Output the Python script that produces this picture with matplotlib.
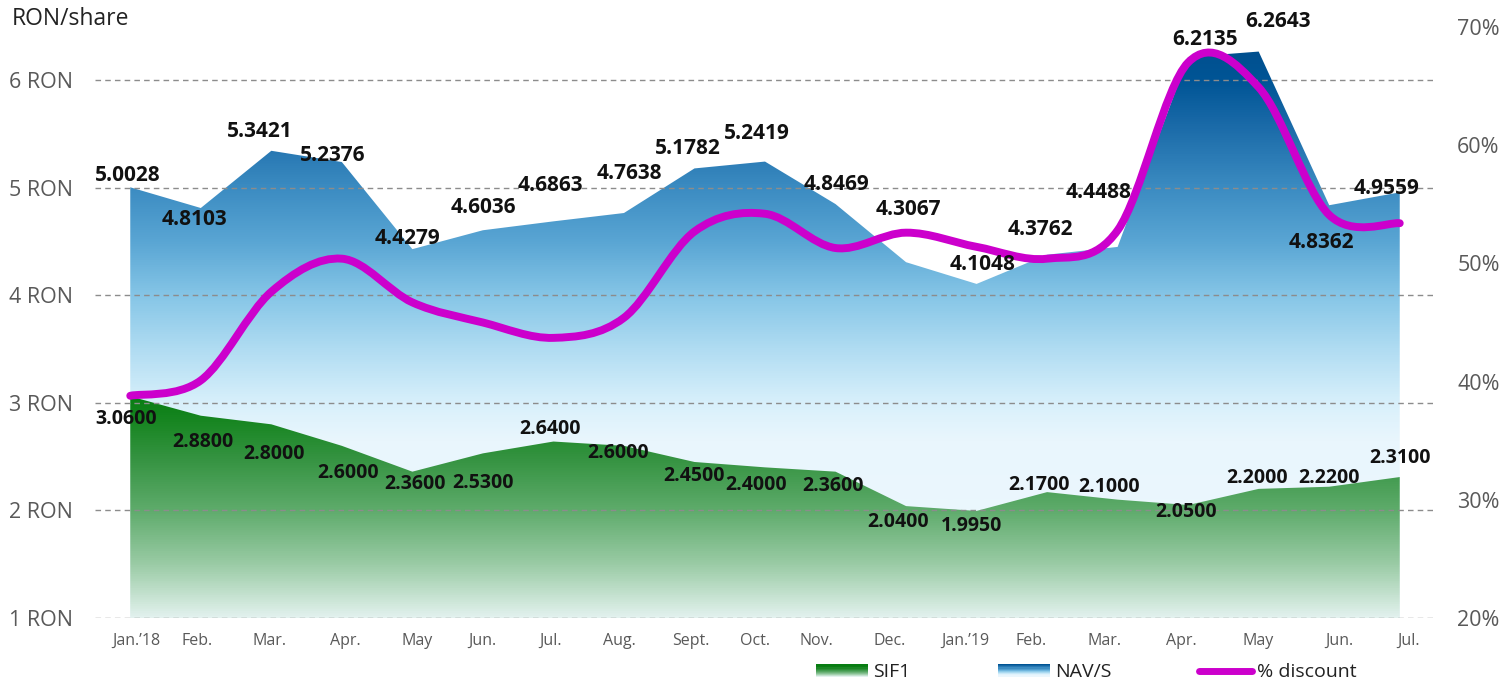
import matplotlib
matplotlib.use('Agg')
import matplotlib.pyplot as plt
import numpy as np
from matplotlib.colors import LinearSegmentedColormap
from matplotlib.patches import Polygon, PathPatch, Rectangle
from matplotlib.path import Path
from matplotlib.lines import Line2D
from matplotlib.legend_handler import HandlerBase
from matplotlib.transforms import ScaledTranslation

plt.rcParams['font.family'] = ['Open Sans', 'DejaVu Sans']

months = ['Jan.\u201918', 'Feb.', 'Mar.', 'Apr.', 'May', 'Jun.', 'Jul.', 'Aug.', 'Sept.',
          'Oct.', 'Nov.', 'Dec.', 'Jan.\u201919', 'Feb.', 'Mar.', 'Apr.', 'May', 'Jun.', 'Jul.']
nav = [5.0028, 4.8103, 5.3421, 5.2376, 4.4279, 4.6036, 4.6863, 4.7638, 5.1782, 5.2419,
       4.8469, 4.3067, 4.1048, 4.3762, 4.4488, 6.2135, 6.2643, 4.8362, 4.9559]
sif1 = [3.06, 2.88, 2.80, 2.60, 2.36, 2.53, 2.64, 2.60, 2.45, 2.40,
        2.36, 2.04, 1.995, 2.17, 2.10, 2.05, 2.20, 2.22, 2.31]
discount = [38.8, 40.1, 47.6, 50.4, 46.7, 45.0, 43.7, 45.4, 52.7, 54.2,
            51.3, 52.6, 51.4, 50.4, 52.8, 67.0, 64.9, 54.1, 53.4]

# label offsets in pixels (dx, dy up)
nav_off = [(-3, 12), (-6, -11), (-12, 19), (-9, 7), (-5, 11), (0, 23), (-3, 36), (5, 40),
           (-7, 20), (-8, 28), (1, 20), (2, 53), (6, 19), (-7, 25), (-19, 54), (17, 18),
           (19, 30), (-8, -37), (-13, 4)]
sif_off = [(-4, -23), (2, -26), (3, -30), (6, -27), (3, -12), (0, -30), (-3, 13), (-6, -7),
           (0, -14), (-9, -18), (-2, -14), (-8, -16), (-5, -15), (-8, 7), (-9, 13), (-2, -7),
           (-2, 11), (0, 9), (0, 19)]
# month labels sit a little off the data points in the original
tick_dx = [6, -4, -2, 3, 5, -1, -3, -5, -4, -10, -19, -16, -11, -16, -13, -7, -1, 10, 9]

blue_stops = [(0.0, '#eef9fe'), (0.30, '#e9f6fd'), (0.364, '#d8f0fb'), (0.455, '#b0dcf2'),
              (0.545, '#86c6e7'), (0.636, '#5aa6d4'), (0.727, '#3c8cc2'), (0.836, '#1a6aa8'),
              (0.91, '#005596'), (1.0, '#004c8a')]
green_stops = [(0.0, '#e2f1ee'), (0.018, '#d4eadf'), (0.09, '#9acba5'), (0.182, '#5eab6b'),
               (0.273, '#33923f'), (0.327, '#1a8724'), (0.375, '#077d12'), (1.0, '#057a10')]
blue_cmap = LinearSegmentedColormap.from_list('navs', blue_stops)
green_cmap = LinearSegmentedColormap.from_list('sif', green_stops)

x = np.arange(len(months))
ybot, ytop = 1, 1 + 591 / 107.6

fig = plt.figure(figsize=(15.03, 6.82), dpi=100)
ax = fig.add_axes([95 / 1503, 64 / 682, 1340 / 1503, 591 / 682])
ax.set_xlim(-0.5, 18.5)
ax.set_ylim(ybot, ytop)

grad = np.linspace(0, 1, 512).reshape(-1, 1)
for vals, cmap in [(nav, blue_cmap), (sif1, green_cmap)]:
    verts = [(x[0], ybot)] + list(zip(x, vals)) + [(x[-1], ybot)]
    poly = Polygon(verts, closed=True, facecolor='none', edgecolor='none')
    ax.add_patch(poly)
    im = ax.imshow(grad, cmap=cmap, origin='lower', aspect='auto',
                   extent=(-0.5, 18.5, ybot, ytop), zorder=1)
    im.set_clip_path(poly)

ax.set_axisbelow(False)
ax.yaxis.grid(True, color='#8c8c8c', linestyle=(0, (4, 3)), linewidth=1)
ax.set_yticks([1, 2, 3, 4, 5, 6])
ax.set_yticklabels([f'{v} RON' for v in [1, 2, 3, 4, 5, 6]])
ax.set_xticks(x)
ax.set_xticklabels(months)
ax.tick_params(axis='y', length=0, pad=16, labelsize=15.5, labelcolor='#595959')
ax.tick_params(axis='x', length=0, pad=11, labelsize=11.5, labelcolor='#595959')
for lab, dx in zip(ax.get_xticklabels(), tick_dx):
    lab.set_transform(lab.get_transform() + ScaledTranslation(dx / 100, 0, fig.dpi_scale_trans))
for s in ax.spines.values():
    s.set_visible(False)

ax2 = ax.twinx()
ax2.set_ylim(20, 70)
ax2.set_yticks([20, 30, 40, 50, 60, 70])
ax2.set_yticklabels([f'{v}%' for v in [20, 30, 40, 50, 60, 70]])
ax2.tick_params(axis='y', length=0, pad=16, labelsize=15.5, labelcolor='#595959')
for s in ax2.spines.values():
    s.set_visible(False)

# smoothed discount line (catmull-rom bezier)
pts = np.column_stack([x, discount]).astype(float)
ext = np.vstack([pts[0], pts, pts[-1]])
verts = [tuple(pts[0])]
codes = [Path.MOVETO]
for i in range(len(pts) - 1):
    p0, p1, p2, p3 = ext[i], ext[i + 1], ext[i + 2], ext[i + 3]
    c1 = p1 + (p2 - p0) / 6
    c2 = p2 - (p3 - p1) / 6
    verts += [tuple(c1), tuple(c2), tuple(p2)]
    codes += [Path.CURVE4] * 3
line = PathPatch(Path(verts, codes), facecolor='none', edgecolor='#cc00cc',
                 linewidth=5.7, capstyle='round', joinstyle='round', zorder=3)
ax2.add_patch(line)

for i in range(len(x)):
    ax2.annotate(f'{nav[i]:.4f}', xy=(x[i], nav[i]), xycoords=ax.transData,
                 xytext=nav_off[i], textcoords='offset pixels', ha='center', va='center',
                 fontsize=15, fontweight='bold', color='#111111', zorder=5)
    ax2.annotate(f'{sif1[i]:.4f}', xy=(x[i], sif1[i]), xycoords=ax.transData,
                 xytext=sif_off[i], textcoords='offset pixels', ha='center', va='center',
                 fontsize=14, fontweight='bold', color='#111111', zorder=5)

fig.text(12 / 1503, 1 - 19 / 682, 'RON/share', fontsize=16.5, color='#222222',
         ha='left', va='center')


class GradHandler(HandlerBase):
    def __init__(self, colors):
        super().__init__()
        self.colors = colors

    def create_artists(self, legend, orig_handle, xdescent, ydescent, width, height,
                       fontsize, trans):
        n = len(self.colors)
        h = height / n
        out = []
        for k, c in enumerate(self.colors):
            r = Rectangle((-xdescent, -ydescent + height - (k + 1) * h), width, h,
                          facecolor=c, edgecolor='none', transform=trans)
            out.append(r)
        return out


h_sif = Rectangle((0, 0), 1, 1)
h_nav = Rectangle((0, 0), 1, 1)
h_disc = Line2D([], [], color='#cc00cc', linewidth=5, solid_capstyle='round')
green_leg = [green_cmap(v) for v in np.linspace(0.45, 0.0, 12)]
blue_leg = [blue_cmap(v) for v in np.linspace(0.92, 0.2, 12)]
fig.legend([h_sif, h_nav, h_disc], ['SIF1', 'NAV/S', '% discount'],
           handler_map={h_sif: GradHandler(green_leg), h_nav: GradHandler(blue_leg)},
           loc='center', bbox_to_anchor=(0.7226, 0.014), ncol=3, frameon=False,
           fontsize=14, handlelength=2.7, handleheight=0.62, handletextpad=0.26,
           columnspacing=4.5, labelcolor='#222222', borderpad=0.2)

fig.savefig('out.png', dpi=100)
